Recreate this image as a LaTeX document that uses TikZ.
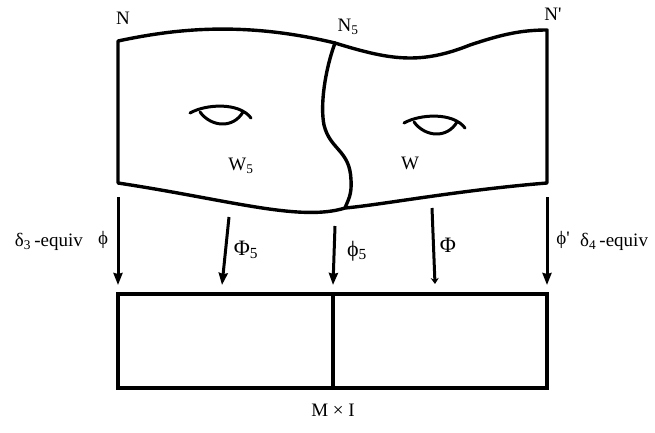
\documentclass[tikz,border=0pt]{standalone}
\usepackage{fontspec}
\setmainfont{Liberation Serif}
\usetikzlibrary{arrows.meta}
\begin{document}
\begin{tikzpicture}[x=1pt,y=-1pt,
  edge/.style={line width=3.4pt,line cap=round,line join=round},
  arr/.style={line width=3pt,-{Stealth[length=12pt,width=9pt,inset=1pt]}},
  lab/.style={font=\fontsize{19}{21}\selectfont,inner sep=0pt},
  big/.style={font=\fontsize{22}{24}\selectfont,inner sep=0pt}]
\useasboundingbox (0,0) rectangle (655,433);
% sheet
\coordinate (tl) at (118,41);
\coordinate (tr) at (547,30);
\coordinate (bl) at (118,183);
\coordinate (br) at (547,183);
\coordinate (tm) at (335,43);
\coordinate (bm) at (345,208);
\draw[edge] (bl) -- (tl)
  .. controls (170,30) and (240,20) .. (tm)
  .. controls (390,60) and (420,65) .. (470,45)
  .. controls (500,35) and (520,30) .. (tr) -- (br)
  .. controls (460,190) and (380,205) .. (bm)
  .. controls (300,222) and (230,200) .. (bl);
\draw[edge] (tm) .. controls (325,70) and (320,105) .. (324,125)
  .. controls (330,150) and (350,150) .. (351,180)
  .. controls (352,195) and (348,200) .. (bm);
% holes
\foreach \hx/\hy/\nm in {221/113/h1, 435/123/h2}{
  \coordinate (\nm) at (\hx,\hy);
  \draw[edge,line width=3pt] ([shift={(-31,0)}]\nm) .. controls ([shift={(-15,-9)}]\nm) and ([shift={(18,-11)}]\nm) .. ([shift={(30,5)}]\nm);
  \draw[edge,line width=3pt] ([shift={(-21,-1)}]\nm) .. controls ([shift={(-10,14)}]\nm) and ([shift={(12,16)}]\nm) .. ([shift={(22,-1)}]\nm);
}
% labels on sheet
\node[lab] (nN) at (123,18) {N};
\node[lab] (nN5) at (348,27) {N\textsubscript{5}};
\node[lab] (nNp) at (553,14) {N\textquotesingle};
\node[lab] (nW5) at (241,166) {W\textsubscript{5}};
\node[lab] (nW) at (410,163) {W};
% base rectangle
\node[draw,line width=3.4pt,minimum width=429pt,minimum height=94pt,inner sep=0pt] (base) at (332.5,341) {};
\draw[line width=3.4pt] (333,294) -- (333,388);
\node[lab] (mi) at (333,410) {M × I};
% arrow endpoints
\coordinate (a1s) at (118,197); \coordinate (a1e) at (118,285);
\coordinate (a2s) at (229,217); \coordinate (a2e) at (222,285);
\coordinate (a3s) at (335,226); \coordinate (a3e) at (333,285);
\coordinate (a4s) at (432,208); \coordinate (a4e) at (435,284);
\coordinate (a5s) at (547,197); \coordinate (a5e) at (547,285);
\draw[arr] (a1s) -- (a1e);
\draw[arr] (a2s) -- (a2e);
\draw[arr] (a3s) -- (a3e);
\draw[line width=3pt,-{Stealth[length=6pt,width=8pt]}] (a4s) -- (a4e);
\draw[arr] (a5s) -- (a5e);
% arrow labels
\node[lab,anchor=east] (l1) at (83,242) {δ\textsubscript{3}\,-equiv};
\node[lab] (l1b) at (103,240) {ϕ};
\node[big] (l2) at (246,250) {Φ\textsubscript{5}};
\node[big] (l3) at (357,251) {ϕ\textsubscript{5}};
\node[big] (l4) at (448,245) {Φ};
\node[lab] (l5) at (563,240) {ϕ\textquotesingle};
\node[lab,anchor=west] (l5b) at (580,242) {δ\textsubscript{4}\,-equiv};
\end{tikzpicture}
\end{document}
